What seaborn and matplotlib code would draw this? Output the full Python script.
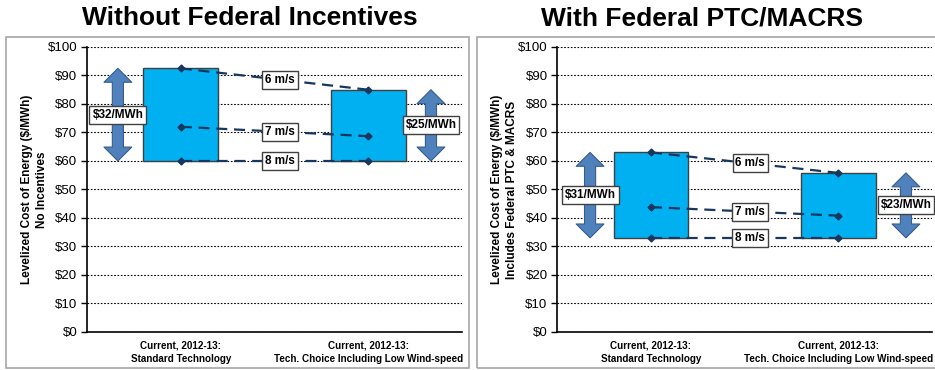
import matplotlib
matplotlib.use("Agg")
import matplotlib.pyplot as plt
from matplotlib.patches import Rectangle
from matplotlib.ticker import StrMethodFormatter, FixedLocator
import seaborn as sns

sns.set_theme(style="white")
plt.rcParams["font.family"] = ["Liberation Sans", "DejaVu Sans"]
plt.rcParams.update({"text.color": "black", "axes.labelcolor": "black",
                     "xtick.color": "black", "ytick.color": "black"})

# ── Data ────────────────────────────────────────────────────────────────────
categories = ["Current, 2012-13:\nStandard Technology",
              "Current, 2012-13:\nTech. Choice Including Low Wind-speed"]
speeds = ["6 m/s", "7 m/s", "8 m/s"]

no_inc_6ms = [92.5, 85.0]
no_inc_7ms = [72.0, 68.7]
no_inc_8ms = [60.0, 60.0]
no_inc_ranges = ["$32/MWh", "$25/MWh"]

ptc_6ms = [63.0, 55.8]
ptc_7ms = [43.8, 40.8]
ptc_8ms = [33.0, 33.0]
ptc_ranges = ["$31/MWh", "$23/MWh"]

titles = ["Without Federal Incentives", "With Federal PTC/MACRS"]
ylabels = ["Levelized Cost of Energy ($/MWh)\nNo Incentives",
           "Levelized Cost of Energy ($/MWh)\nIncludes Federal PTC & MACRS"]

BAR = "#00B0F0"
LINE = "#17375E"
ARROW = "#4F81BD"

fig = plt.figure(figsize=(9.35, 3.7), dpi=100)
axes = [fig.add_axes([0.093, 0.103, 0.401, 0.770]),
        fig.add_axes([0.596, 0.103, 0.401, 0.770])]

# panel frames and titles
for x0, x1, cx, title in [(6, 469, 250, titles[0]), (477, 940, 702, titles[1])]:
    fig.add_artist(Rectangle((x0 / 935, 2 / 370), (x1 - x0) / 935, 331 / 370,
                             transform=fig.transFigure, fill=False,
                             edgecolor="#A6A6A6", linewidth=1.2))
    fig.text(cx / 935, 352 / 370, title, ha="center", va="center",
             fontsize=19, fontweight="bold", color="black")

panels = [
    (axes[0], [no_inc_6ms, no_inc_7ms, no_inc_8ms], no_inc_ranges, ylabels[0], (-0.335, 1.335)),
    (axes[1], [ptc_6ms, ptc_7ms, ptc_8ms], ptc_ranges, ylabels[1], (-0.325, 1.36)),
]

arrow_style = "simple,head_length=1.0,head_width=2.0,tail_width=0.8"

for ax, series, ranges, ylabel, arrow_x in panels:
    top, mid, low = series
    heights = [t - b for t, b in zip(top, low)]
    sns.barplot(x=[0, 1], y=heights, ax=ax, color=BAR, saturation=1,
                edgecolor="#404040", linewidth=1, width=0.4, zorder=3)
    for patch, b in zip(ax.patches, low):
        patch.set_y(b)

    # dashed wind-speed lines with labels
    for vals, name in zip(series, speeds):
        ax.plot([0, 1], vals, color=LINE, linestyle=(0, (5, 3)), linewidth=1.6,
                marker="D", markersize=3.5, zorder=4)
        lx = 0.53
        ly = vals[0] + (vals[1] - vals[0]) * lx
        ax.text(lx, ly, name, ha="center", va="center", fontsize=8.5,
                fontweight="bold", zorder=6,
                bbox=dict(boxstyle="square,pad=0.25", fc="white", ec="#404040", lw=1))

    # range arrows
    for i, xa in enumerate(arrow_x):
        hi, lo = top[i], low[i]
        m = (hi + lo) / 2
        for end in (hi, lo):
            ax.annotate("", xy=(xa, end), xytext=(xa, m), zorder=5,
                        arrowprops=dict(arrowstyle=arrow_style, mutation_scale=10,
                                        fc=ARROW, ec="#385D8A", lw=0.8,
                                        shrinkA=0, shrinkB=0))
        ax.text(xa, m, ranges[i], ha="center", va="center", fontsize=8.5,
                fontweight="bold", zorder=7,
                bbox=dict(boxstyle="square,pad=0.25", fc="white", ec="#404040", lw=1))

    ax.set_xlim(-0.5, 1.5)
    ax.set_ylim(0, 100)
    ax.set_yticks(range(0, 101, 10))
    ax.yaxis.set_major_formatter(StrMethodFormatter("${x:.0f}"))
    ax.set_xticks([0, 1])
    ax.set_xticklabels(categories, fontsize=7.1, fontweight="bold", linespacing=1.45)
    ax.xaxis.set_minor_locator(FixedLocator([0.5, 1.5]))
    ax.tick_params(axis="x", which="major", length=0, pad=6)
    ax.tick_params(axis="x", which="minor", length=4, width=1, color="black", direction="out")
    ax.tick_params(axis="y", length=4, width=1, color="black", direction="out",
                   labelsize=9.5, pad=3, left=True)
    ax.set_ylabel(ylabel, fontsize=8.5, fontweight="bold", labelpad=0, linespacing=1.3)
    ax.set_xlabel("")
    ax.yaxis.grid(True, color="black", linestyle=(0, (1.5, 1.5)), linewidth=0.8)
    ax.set_axisbelow(True)
    for side in ["top", "right"]:
        ax.spines[side].set_visible(False)
    for side in ["left", "bottom"]:
        ax.spines[side].set_color("black")
        ax.spines[side].set_linewidth(1.2)

fig.savefig("out.png", dpi=100)
